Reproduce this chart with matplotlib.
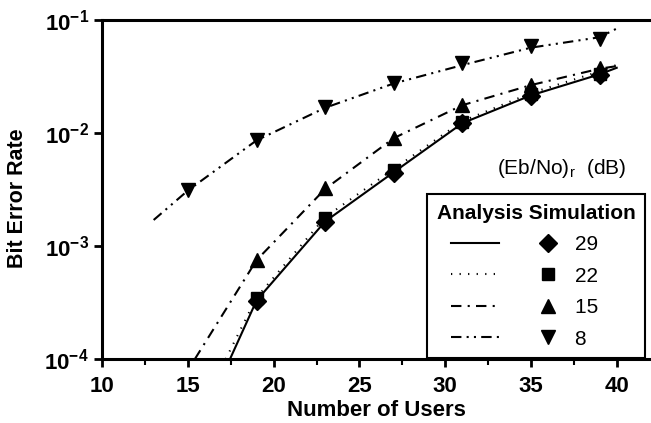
import numpy as np
import matplotlib
matplotlib.use('Agg')
import matplotlib.pyplot as plt
from matplotlib.legend_handler import HandlerTuple

plt.rcParams['font.family'] = ['Liberation Sans', 'DejaVu Sans']
plt.rcParams['mathtext.fontset'] = 'custom'
plt.rcParams['mathtext.rm'] = 'Liberation Sans'

# Eb/No values (dB)
ebno = ['29', '22', '15', '8']

# analysis curves
x_a29 = [17.45, 19, 23, 27, 31, 35, 39, 40]
a29 = [1e-4, 3.3e-4, 1.65e-3, 4.5e-3, 0.0122, 0.0215, 0.033, 0.0377]
x_a22 = [17.2, 19, 23, 27, 31, 35, 39, 40]
a22 = [1e-4, 3.5e-4, 1.8e-3, 4.8e-3, 0.0127, 0.0225, 0.035, 0.040]
x_a15 = [15.4, 19, 23, 27, 31, 35, 39, 40]
a15 = [1e-4, 7.5e-4, 3.2e-3, 9.0e-3, 0.0176, 0.0265, 0.037, 0.039]
x_a8 = [13, 15, 19, 23, 27, 31, 35, 39, 40]
a8 = [1.7e-3, 3.1e-3, 8.6e-3, 0.0167, 0.0274, 0.0398, 0.0568, 0.0702, 0.0838]

# simulation points
x_sim = [19, 23, 27, 31, 35, 39]
x_sim8 = [15, 19, 23, 27, 31, 35, 39]
s29 = [3.25e-4, 1.63e-3, 4.45e-3, 0.0122, 0.0214, 0.0325]
s22 = [3.46e-4, 1.78e-3, 4.74e-3, 0.0126, 0.0222, 0.0334]
s15 = [7.46e-4, 3.23e-3, 8.99e-3, 0.0176, 0.0265, 0.0377]
s8 = [3.1e-3, 8.6e-3, 0.0170, 0.0279, 0.0412, 0.0588, 0.0677]

fig = plt.figure(figsize=(6.51, 4.23), dpi=100)
ax = fig.add_axes([0.157, 0.151, 0.843, 0.802])

lw = 1.5
l29, = ax.plot(x_a29, a29, '-', color='k', lw=lw)
l22, = ax.plot(x_a22, a22, color='k', lw=lw, linestyle=(0, (0.6, 3.5)))
l15, = ax.plot(x_a15, a15, color='k', lw=lw, linestyle=(0, (5, 3, 1, 3)))
l8, = ax.plot(x_a8, a8, color='k', lw=lw, linestyle=(0, (5, 2.5, 1, 2.5, 1, 2.5)))

m29, = ax.plot(x_sim, s29, 'D', color='k', ms=9, ls='none')
m22, = ax.plot(x_sim, s22, 's', color='k', ms=9, ls='none')
m15, = ax.plot(x_sim, s15, '^', color='k', ms=10.5, ls='none')
m8, = ax.plot(x_sim8, s8, 'v', color='k', ms=10.5, ls='none')

ax.set_yscale('log')
ax.set_ylim(1e-4, 1e-1)
ax.set_xlim(10, 42)
ax.set_xticks([10, 15, 20, 25, 30, 35, 40])
ax.set_xticks(np.arange(12.5, 42, 5), minor=True)
ax.yaxis.set_minor_locator(matplotlib.ticker.NullLocator())

for s in ['left', 'bottom', 'top']:
    ax.spines[s].set_linewidth(2.2)
ax.spines['right'].set_visible(False)
ax.tick_params(axis='both', which='major', direction='out', length=6, width=2,
               labelsize=16)
ax.tick_params(axis='x', which='major', pad=6)
ax.tick_params(axis='x', which='minor', direction='out', length=4, width=1.5)
for lab in ax.get_xticklabels() + ax.get_yticklabels():
    lab.set_fontweight('bold')

ax.set_xlabel('Number of Users', fontsize=16, fontweight='bold', labelpad=2)
ax.set_ylabel('Bit Error Rate', fontsize=15.5, fontweight='bold', labelpad=8)
ax.yaxis.set_label_coords(-0.135, 0.475)

# trailing spaces keep the entry rows left of centre, as in the original box
leg = ax.legend([(l29, m29), (l22, m22), (l15, m15), (l8, m8)],
                [e + '    ' for e in ebno],
                handler_map={tuple: HandlerTuple(ndivide=None, pad=1.25)},
                loc='lower right', bbox_to_anchor=(0.989, 0.003),
                borderaxespad=0, fontsize=15, handlelength=5.8,
                handletextpad=0.15, labelspacing=0.6, fancybox=False,
                edgecolor='k', framealpha=1, borderpad=0.45,
                title='Analysis Simulation',
                title_fontproperties={'weight': 'bold', 'size': 15})
leg.get_frame().set_linewidth(1.5)

ax.text(0.955, 0.563, '(Eb/No)$_\\mathrm{r}$  (dB)', transform=ax.transAxes,
        ha='right', va='center', fontsize=15)

fig.savefig('out.png', dpi=100)
